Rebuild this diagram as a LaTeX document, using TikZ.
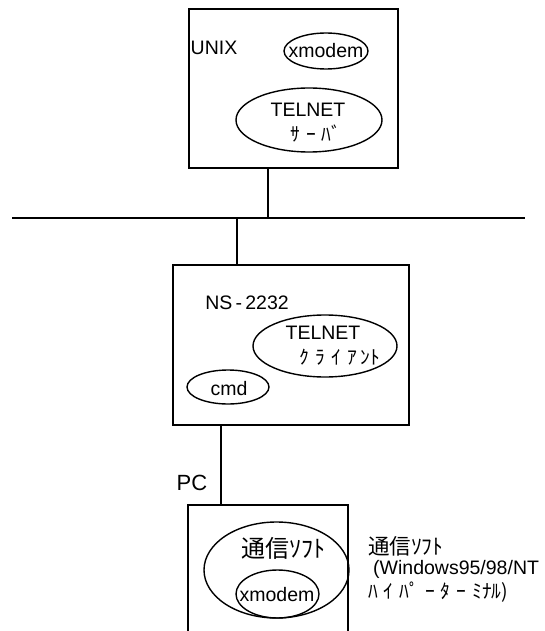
\documentclass[tikz,border=0pt]{standalone}
\usepackage{fontspec}
\setmainfont{Liberation Sans}
\newfontfamily\jp{Noto Sans CJK JP}
\usetikzlibrary{shapes.geometric}
\begin{document}
\begin{tikzpicture}[x=1pt,y=-1pt,
  box/.style={draw, rectangle, line width=1.4pt, inner sep=0pt},
  ell/.style={draw, ellipse, line width=1.4pt, inner sep=0pt},
  wire/.style={line width=1.4pt},
  lbl/.style={inner sep=0pt, font=\fontsize{19.5}{22}\selectfont}]
\clip (0,0) rectangle (545,631);
\fill[white] (0,0) rectangle (545,631);
% boxes
\node[box, minimum width=209pt, minimum height=159pt] (unix) at (293.5,88.5) {};
\node[box, minimum width=236pt, minimum height=160pt] (ns) at (291,345) {};
\node[box, minimum width=160pt, minimum height=160pt] (pc) at (268,585) {};
% bus and connectors
\coordinate (busL) at (12,218);
\coordinate (busR) at (525,218);
\draw[wire] (busL) -- (busR);
\coordinate (t1) at (268,218);
\coordinate (t2) at (237,218);
\coordinate (t3) at (221,0);
\draw[wire] (t1 |- unix.south) -- (t1);
\draw[wire] (t2) -- (t2 |- ns.north);
\draw[wire] (t3 |- ns.south) -- (t3 |- pc.north);
% UNIX box
\node[lbl] (unixl) at (214,48) {UNIX};
\node[ell, minimum width=84pt, minimum height=36pt] (xm1) at (326,51) {};
\node[lbl] (xm1t) at (326,51) {xmodem};
\node[ell, minimum width=146pt, minimum height=64pt] (tsv) at (309,120) {};
\node[lbl] (tsvt1) at (308,110) {TELNET};
\node[lbl] (tsvt2) at (316,134) {\jp ｻ\hspace{6pt}ｰ\hspace{6pt}ﾊﾞ};
% NS-2232 box
\node[lbl] (nsl) at (247,303) {NS\,-\,2232};
\node[ell, minimum width=144pt, minimum height=62pt] (tcl) at (325,346) {};
\node[lbl] (tclt1) at (323,333) {TELNET};
\node[lbl] (tclt2) at (340,357) {\jp ｸ\hspace{6pt}ﾗ\hspace{6pt}ｲ\hspace{6pt}ｱ\hspace{4pt}ﾝﾄ};
\node[ell, minimum width=82pt, minimum height=34pt] (cmd) at (228,387) {};
\node[lbl] (cmdt) at (229,389) {cmd};
% PC
\node[lbl, font=\fontsize{22}{24}\selectfont] (pcl) at (192,483) {PC};
\node[ell, minimum width=145pt, minimum height=96pt] (soft) at (276.5,570) {};
\node[lbl, font=\fontsize{24}{26}\selectfont] (softt) at (283,548) {\jp 通信ｿﾌﾄ};
\node[ell, minimum width=83pt, minimum height=48pt] (xm2) at (277.5,594) {};
\node[lbl] (xm2t) at (277,595) {xmodem};
% right note
\node[lbl, anchor=west, font=\fontsize{21.5}{23}\selectfont] (n1) at (368,546) {\jp 通信ｿﾌﾄ};
\node[lbl, anchor=west] (n2) at (373,569) {(Windows95/98/NT};
\node[lbl, anchor=west] (n3) at (368,592) {\jp ﾊ\hspace{6pt}ｲ\hspace{6pt}ﾊﾟ\hspace{6pt}ｰ\hspace{6pt}ﾀ\hspace{6pt}ｰ\hspace{6pt}ﾐﾅﾙ)};
\end{tikzpicture}
\end{document}
